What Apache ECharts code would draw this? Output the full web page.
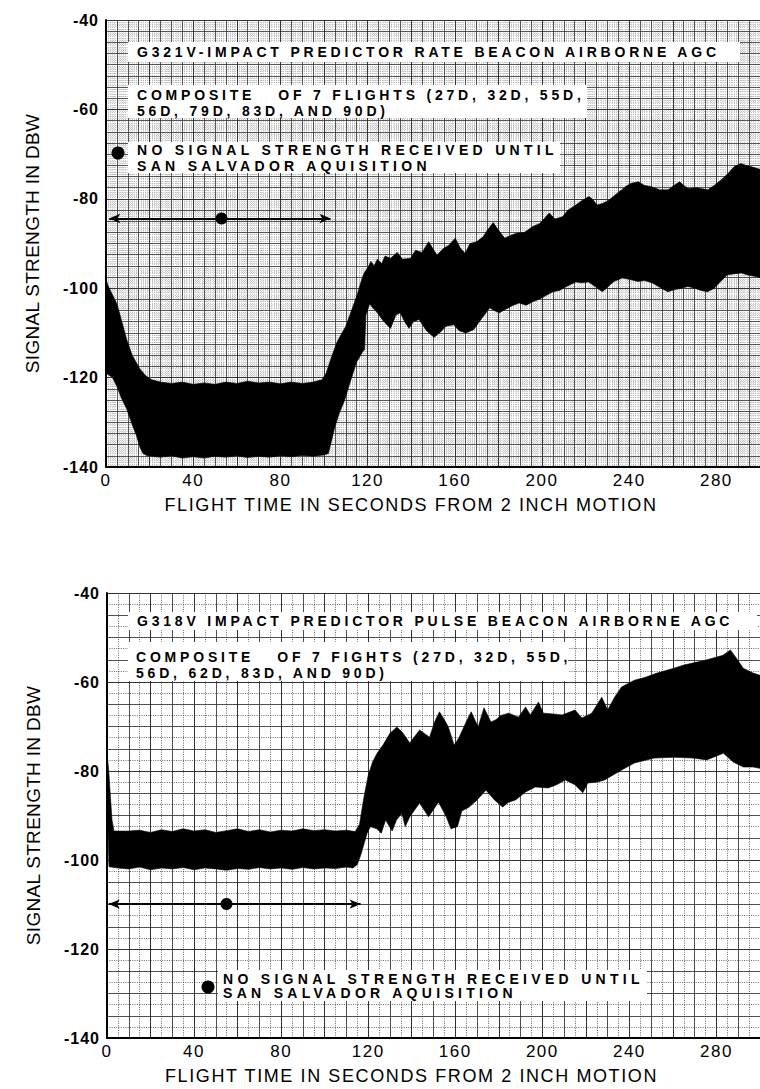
<!DOCTYPE html>
<html>
<head>
<meta charset="utf-8">
<script src="https://cdn.jsdelivr.net/npm/echarts@6/dist/echarts.min.js"></script>
<style>
  html, body { margin: 0; padding: 0; background: #fff; }
  #chart { width: 760px; height: 1089px; }
  #chart text { white-space: pre; }
</style>
</head>
<body>
<div id="chart"></div>
<script>
// ---------- axis ticks and titles ----------
const timeTicks = [0, 40, 80, 120, 160, 200, 240, 280];
const dbwTicks = [-140, -120, -100, -80, -60, -40];
const timeAxisTitle = 'FLIGHT TIME IN SECONDS FROM 2 INCH MOTION';
const dbwAxisTitle = 'SIGNAL STRENGTH IN DBW';

// ---------- G321V rate beacon: envelope of the 7 flights [time s, dBW] ----------
const rateUpper = [
  [0, -98], [1, -99.5], [3, -101.5], [5, -103.5], [7, -107], [9.5, -111.5], [12, -115],
  [15.5, -118], [18, -119.5], [21, -120.5], [25, -121], [30, -121.3], [35, -121],
  [40, -121.5], [45, -121.2], [50, -121.5], [55, -121], [60, -121.3], [65, -120.8],
  [70, -121.2], [75, -121], [80, -121.4], [85, -121], [90, -121.3], [95, -121],
  [99, -120.5], [101, -119], [103, -116], [106, -112], [110, -108.5], [113, -104.5],
  [115.5, -101], [117, -98.5], [118.5, -96.5], [120, -95.5], [121.5, -94], [123, -95],
  [124.5, -93.5], [126.5, -94.5], [128, -92.8], [130.5, -93.3], [133.6, -92], [136, -93.5],
  [139.7, -93.3], [142, -91.5], [145, -92], [148, -89.6], [151.8, -92.6], [155, -91],
  [157, -90.5], [160.2, -88.8], [162.5, -91], [164.7, -92.2], [167, -90], [170, -89.6],
  [173, -88.5], [175, -87], [177.6, -85.3], [180, -87], [182.9, -88.8], [185, -88.3],
  [188.2, -87.7], [192, -87.5], [195.8, -86.2], [199, -85.5], [203.3, -83.2], [206, -84.5],
  [209.4, -84], [212, -82.5], [215.5, -81.4], [218, -80.5], [221.5, -79.5], [223, -80],
  [225.3, -81.4], [228, -81], [230.6, -80.3], [234, -79], [238.2, -77.3], [241, -76.5],
  [244.2, -76.2], [247, -77], [250.3, -77.3], [254, -78], [257.9, -78], [260.5, -77],
  [263.2, -76.2], [265, -77], [267, -77.7], [271, -77.5], [276, -78], [279, -77],
  [282.1, -75.8], [285, -74.5], [288.2, -72.8], [291.2, -72.1], [293.5, -72.5],
  [295.8, -72.8], [300, -73.4]
];
const rateLower = [
  [0, -119], [1.5, -119.5], [3, -120], [5, -122], [7, -124.5], [9.5, -127], [12, -130.5],
  [14, -133], [15.5, -135.5], [17, -137], [19, -137.5], [25, -137.8], [30, -137.5],
  [35, -138], [40, -137.7], [45, -138], [50, -137.6], [55, -137.8], [60, -137.5],
  [65, -137.9], [70, -137.6], [75, -137.8], [80, -137.5], [85, -137.7], [90, -137.4],
  [95, -137.6], [100, -137.3], [102, -137], [103, -135], [105, -131], [107, -128],
  [109.5, -125], [112, -121], [115, -116.5], [118, -114], [118.6, -113.8], [119.2, -106],
  [121, -103.5], [122.5, -104.5], [124.5, -105.5], [127, -107.2], [130.5, -109], [133, -106],
  [135, -105.5], [137, -107.5], [139, -109], [141, -107.5], [143.6, -107], [147, -109.5],
  [150.5, -111], [153, -110], [156, -108.5], [159.5, -108.2], [162, -109.5], [165, -110],
  [168.6, -109.3], [172, -107], [176, -104.4], [178, -105], [180.5, -105.5], [183, -104.8],
  [186, -104], [189.5, -103.3], [192.7, -103.8], [196, -103], [199, -102.4], [202, -101.6],
  [205, -100.8], [208, -100.5], [211, -99.7], [215.5, -98.6], [218, -98.8], [221.4, -98.6],
  [224, -99.5], [227.7, -100.8], [230, -99.8], [233, -98.5], [236.8, -97.7], [240, -98],
  [244, -98.5], [247, -98.3], [250.5, -98.8], [254, -99.8], [257.7, -100.8], [261, -100.3],
  [264, -100], [267, -99.6], [270, -100], [273, -100.5], [276, -100.8], [279, -100],
  [282, -98.5], [285, -97], [288, -96.8], [291.4, -96.6], [294, -97], [300, -97.6]
];
const rateNoSignalSpan = [1.5, 103];
const rateNoSignalLevel = -84.4;
const rateNoSignalMark = 53;

// ---------- G318V pulse beacon: envelope of the 7 flights [time s, dBW] ----------
const pulseUpper = [
  [0, -76], [0.8, -80], [1.6, -86], [2.3, -91], [3.2, -93.5], [10, -93.5], [15, -93.3],
  [20, -93.8], [25, -93.2], [30, -93.6], [35, -93], [40, -93.5], [45, -93.2], [50, -93.8],
  [55, -93.4], [60, -93], [65, -93.6], [70, -93.2], [75, -93.7], [80, -93.3], [85, -93.5],
  [90, -93], [95, -93.4], [100, -93.2], [105, -93.5], [110, -93.3], [114, -93.6],
  [116, -92], [118, -86], [120, -81], [122, -78], [124.1, -76], [127, -74], [130, -71.5],
  [133.2, -70.1], [136, -71.5], [139.1, -73.7], [143.6, -70.8], [148.2, -72.4], [150.5, -69],
  [152.7, -66.7], [155, -68.5], [156.8, -70.1], [159.5, -74.2], [161.8, -72.4], [165, -69],
  [167.3, -66.7], [170.5, -70.1], [173.2, -65.8], [176.4, -69], [178.6, -68.5], [181, -67.5],
  [184.5, -67], [189.1, -67.9], [192.3, -65.6], [194.5, -67.4], [198.2, -64.5], [200.5, -67],
  [205, -67.2], [209.1, -67.4], [215, -66.3], [218.2, -68.1], [222.7, -67], [227.3, -63.4],
  [230, -66.3], [233.2, -63.4], [236.4, -61.1], [242.3, -59.6], [247, -59], [252.7, -58],
  [260.5, -56.9], [265, -56.2], [269.5, -55.7], [274, -55.2], [278.6, -54.6], [283, -54],
  [286.4, -52.8], [289.1, -54.6], [292.3, -56.9], [296.8, -58], [300, -58.5]
];
const pulseLower = [
  [0, -78], [0.2, -86], [0.5, -94], [0.9, -101.5], [5, -101.8], [10, -102], [15, -101.6],
  [20, -102.2], [25, -101.8], [30, -102], [35, -101.7], [40, -102.2], [45, -101.8],
  [50, -102], [55, -102.3], [60, -101.9], [65, -102.1], [70, -101.7], [75, -102],
  [80, -101.8], [85, -102.1], [90, -101.7], [95, -102], [100, -101.8], [105, -101.9],
  [110, -101.6], [113, -101.8], [115, -101], [116.5, -99], [118, -96.5], [119.5, -94],
  [121, -92.5], [124, -93], [126, -94], [128, -91], [131, -93.5], [133, -91], [135.5, -89.5],
  [137, -92.5], [139.1, -90.3], [143.6, -87.2], [147.7, -90.3], [152.3, -87], [155.9, -90.3],
  [158, -93], [161, -92.5], [163, -89], [166.4, -88.1], [170, -86.5], [174.1, -84.3],
  [178, -86.5], [181.8, -88.1], [184.5, -87], [187.7, -86.5], [192.3, -84.7], [196.8, -83.6],
  [202.7, -83.8], [207, -83], [210.5, -82], [215, -83.1], [218.6, -84.9], [220.9, -82.7],
  [225, -82.5], [228.6, -82], [236.4, -79.8], [242.3, -78.2], [251.4, -77.1], [260.5, -76.9],
  [269.5, -77.1], [275.5, -77.5], [283.2, -76], [287.7, -78], [292.3, -79.1], [296.8, -79.1],
  [300, -79.4]
];
const pulseNoSignalSpan = [0.8, 116.5];
const pulseNoSignalLevel = -109.9;
const pulseNoSignalMark = 54.9;

// ---------- annotation text ----------
const rateTitle = 'G321V-IMPACT PREDICTOR RATE BEACON AIRBORNE AGC';
const rateFlights = ['COMPOSITE   OF 7 FLIGHTS (27D, 32D, 55D,', '56D, 79D, 83D, AND 90D)'];
const pulseTitle = 'G318V IMPACT PREDICTOR PULSE BEACON AIRBORNE AGC';
const pulseFlights = ['COMPOSITE   OF 7 FIGHTS (27D, 32D, 55D,', '56D, 62D, 83D, AND 90D)'];
const noSignalNote = ['NO SIGNAL STRENGTH RECEIVED UNTIL', 'SAN SALVADOR AQUISITION'];

const FONT = '"Liberation Sans", Arial, sans-serif';
const chart = echarts.init(document.getElementById('chart'), null, { renderer: 'svg' });

// main time axis: labelled every 40 s, solid rulings at the minor split
function timeAxis(gridIndex, minorSplit) {
  return {
    type: 'value', gridIndex, min: 0, max: 300, interval: 20,
    name: timeAxisTitle, nameLocation: 'middle', nameGap: 29,
    nameTextStyle: { fontFamily: FONT, fontSize: 18, color: '#000', padding: [0, 44, 0, 0] },
    axisLine: { show: true, onZero: false, lineStyle: { color: '#000', width: 2 } },
    axisTick: { show: false },
    axisLabel: {
      margin: 5, fontSize: 17, color: '#000', fontFamily: FONT, showMaxLabel: false,
      formatter: v => (timeTicks.includes(v) ? String(v) : '')
    },
    splitLine: { show: true, lineStyle: { color: '#222', width: 0.9 } },
    minorTick: { show: false, splitNumber: minorSplit },
    minorSplitLine: { show: true, lineStyle: { color: '#333', width: 0.8 } },
    z: 2
  };
}
function dbwAxis(gridIndex, minorSplit) {
  return {
    type: 'value', gridIndex, min: -140, max: -40, interval: 20,
    name: dbwAxisTitle, nameLocation: 'middle', nameRotate: 90, nameGap: 64,
    nameTextStyle: { fontFamily: FONT, fontSize: 19, color: '#000' },
    axisLine: { show: true, onZero: false, lineStyle: { color: '#000', width: 2 } },
    axisTick: { show: false },
    axisLabel: {
      margin: 7, fontSize: 16, fontWeight: 'bold', color: '#000', fontFamily: FONT,
      formatter: v => (dbwTicks.includes(v) ? String(v) : '')
    },
    splitLine: { show: true, lineStyle: { color: '#222', width: 0.9 } },
    minorTick: { show: false, splitNumber: minorSplit },
    minorSplitLine: { show: true, lineStyle: { color: '#333', width: 0.8 } },
    z: 2
  };
}
// fine dotted rulings of the graph paper
function fineAxis(kind, gridIndex, step, color) {
  const base = kind === 'x' ? { min: 0, max: 300 } : { min: -140, max: -40 };
  return Object.assign(base, {
    type: 'value', gridIndex, interval: step,
    axisLine: { show: false }, axisTick: { show: false }, axisLabel: { show: false },
    splitLine: { show: true, lineStyle: { color, width: 0.8, type: [1, 1.3] } },
    z: 1
  });
}

// filled envelope between upper and lower traces
function envelope(upper, lower, axisIndex) {
  const outline = upper.concat(lower.slice().reverse());
  return {
    type: 'custom', coordinateSystem: 'cartesian2d',
    xAxisIndex: axisIndex, yAxisIndex: axisIndex,
    data: outline, encode: { x: 0, y: 1 }, clip: true, silent: true, z: 3,
    renderItem(params, api) {
      if (params.dataIndexInside !== 0) return null;
      const pts = [];
      for (let i = 0; i < params.dataInsideLength; i++) {
        pts.push(api.coord([api.value(0, i), api.value(1, i)]));
      }
      return { type: 'polygon', shape: { points: pts }, style: { fill: '#000', stroke: '#000', lineWidth: 0.6 } };
    }
  };
}

// "no signal" span: double arrow with a marker dot
function noSignal(span, level, mark, axisIndex) {
  return {
    type: 'scatter', xAxisIndex: axisIndex, yAxisIndex: axisIndex, silent: true, z: 5,
    data: [[mark, level]], symbolSize: 12, itemStyle: { color: '#000', opacity: 1 },
    markLine: {
      silent: true, symbol: ['arrow', 'arrow'], symbolSize: [7, 11],
      lineStyle: { color: '#000', width: 2, type: 'solid', opacity: 1 }, label: { show: false },
      emphasis: { disabled: true },
      data: [[{ coord: [span[0], level] }, { coord: [span[1], level] }]]
    }
  };
}

function box(x, y, w, h) {
  return { type: 'rect', z: 20, shape: { x, y, width: w, height: h }, style: { fill: '#fff' } };
}
function label(text, x, y) {
  return {
    type: 'text', z: 21, x, y,
    style: { text, fill: '#000', font: 'bold 14px ' + FONT, verticalAlign: 'middle', align: 'left' }
  };
}

const option = {
  animation: false,
  backgroundColor: '#fff',
  grid: [
    { left: 106, top: 20, width: 661, height: 447 },
    { left: 107, top: 593, width: 661, height: 445 }
  ],
  xAxis: [
    timeAxis(0, 4), fineAxis('x', 0, 1, '#a8a8a8'),
    timeAxis(1, 2), fineAxis('x', 1, 5, '#444')
  ],
  yAxis: [
    dbwAxis(0, 8), fineAxis('y', 0, 0.5, '#a8a8a8'),
    dbwAxis(1, 4), fineAxis('y', 1, 2.5, '#444')
  ],
  series: [
    envelope(rateUpper, rateLower, 0),
    noSignal(rateNoSignalSpan, rateNoSignalLevel, rateNoSignalMark, 0),
    envelope(pulseUpper, pulseLower, 2),
    noSignal(pulseNoSignalSpan, pulseNoSignalLevel, pulseNoSignalMark, 2)
  ],
  graphic: [
    // G321V annotations
    box(128, 42, 612, 20), label(rateTitle, 137, 52),
    box(128, 85, 459, 33), label(rateFlights[0], 137, 95), label(rateFlights[1], 137, 111),
    { type: 'circle', z: 21, shape: { cx: 118, cy: 153, r: 6.5 }, style: { fill: '#000' } },
    box(128, 142, 432, 31), label(noSignalNote[0], 137, 150), label(noSignalNote[1], 137, 166),
    // G318V annotations
    box(128, 612, 629, 18), label(pulseTitle, 137, 621),
    box(128, 642, 440, 39), label(pulseFlights[0], 136, 657), label(pulseFlights[1], 136, 673),
    { type: 'circle', z: 21, shape: { cx: 208, cy: 987, r: 6.5 }, style: { fill: '#000' } },
    box(218, 970, 429, 31), label(noSignalNote[0], 223, 979), label(noSignalNote[1], 223, 993)
  ]
};
chart.setOption(option);

// wide tracking of the stencil lettering
const annotationLines = [rateTitle, pulseTitle].concat(rateFlights, pulseFlights);
function trackingFor(s) {
  if (annotationLines.includes(s)) return 3.8;
  if (noSignalNote.includes(s)) return 4.3;
  if (s === timeAxisTitle) return 1.6;
  if (s === dbwAxisTitle) return 0.3;
  if (/^-\d+$/.test(s)) return 1;
  if (/^\d+$/.test(s)) return 1.5;
  return 0;
}
document.querySelectorAll('#chart text').forEach(el => {
  const t = trackingFor(el.textContent);
  if (t) el.style.letterSpacing = t + 'px';
});
</script>
</body>
</html>
